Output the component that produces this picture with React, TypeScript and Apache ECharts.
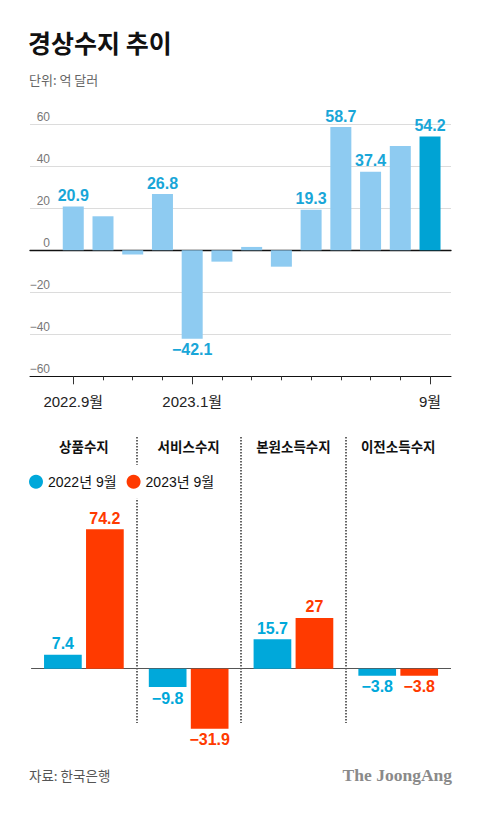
import React, { useEffect, useRef } from 'react';
import * as echarts from 'echarts';

const months = ['2022.9월', '10월', '11월', '12월', '2023.1월', '2월', '3월', '4월', '5월', '6월', '7월', '8월', '9월'];
const balance = [20.9, 16.2, -2.0, 26.8, -42.1, -5.4, 1.6, -7.8, 19.3, 58.7, 37.4, 49.7, 54.2];
const labeledMonths = [true, false, false, true, true, false, false, false, true, true, true, false, true];
const shownMonthLabels = [0, 4, 12];
const yMin = -60;
const yMax = 60;
const yStep = 20;

const sectors = ['상품수지', '서비스수지', '본원소득수지', '이전소득수지'];
const seriesNames = ['2022년 9월', '2023년 9월'];
const sep2022 = [7.4, -9.8, 15.7, -3.8];
const sep2023 = [74.2, -31.9, 27, -3.8];

const FONT = "'Liberation Sans', 'Noto Sans CJK KR', sans-serif";
const KFONT = "'Noto Sans CJK KR', sans-serif";
const LIGHT = '#8ECBF1';
const DARK = '#00A3D4';
const LABEL_BLUE = '#19A6D8';
const BLUE = '#00A8DA';
const RED = '#FF3A00';

const fmt = (v: number) => (v < 0 ? '−' : '') + String(Math.abs(v));

export default function App() {
  const ref = useRef<HTMLDivElement>(null);
  useEffect(() => {
    if (!ref.current) return;
    const chart = echarts.init(ref.current, undefined, { renderer: 'svg' });
    const topGrid = { top: 124.3, bottom: 813 - 376.3 };
    const option: any = {
      animation: false,
      backgroundColor: '#fff',
      textStyle: { fontFamily: FONT },
      title: [
        { text: '경상수지 추이', left: 28, top: 29, padding: 0, textStyle: { fontFamily: KFONT, fontSize: 25, fontWeight: 'bold', color: '#111' } },
        { text: '단위: 억 달러', left: 29, top: 73, padding: 0, textStyle: { fontFamily: KFONT, fontSize: 13, fontWeight: 'normal', color: '#666' } },
        { text: '자료: 한국은행', left: 29, top: 768, padding: 0, textStyle: { fontFamily: KFONT, fontSize: 13.5, fontWeight: 'normal', color: '#555' } },
        { text: 'The JoongAng', right: 28, top: 766, padding: 0, textStyle: { fontFamily: "'Liberation Serif', 'DejaVu Serif', serif", fontSize: 17.5, fontWeight: 'bold', color: '#8a8a8a' } },
      ],
      legend: {
        data: seriesNames,
        left: 24,
        top: 464.7,
        padding: [10, 5],
        backgroundColor: '#fff',
        icon: 'circle',
        itemWidth: 14,
        itemHeight: 14,
        itemGap: 10,
        z: 10,
        textStyle: { fontFamily: FONT, fontSize: 14, color: '#111' },
      },
      grid: [
        { left: 30, right: 29, ...topGrid },
        { left: 58.4, right: 35.1, ...topGrid },
        { left: 58.4, right: 35.1, ...topGrid },
        { left: 31.5, right: 29.4, top: 437, bottom: 90 },
        { left: 31.5, right: 29.4, top: 480.7, bottom: 69.1 },
      ],
      xAxis: [
        { gridIndex: 0, type: 'value', min: 0, max: 1, position: 'bottom', axisLine: { show: true, onZero: false, lineStyle: { color: '#111', width: 1 } }, axisTick: { show: false }, axisLabel: { show: false }, splitLine: { show: false } },
        { gridIndex: 0, type: 'value', min: 0, max: 1, position: 'top', axisLine: { show: true, onZero: true, lineStyle: { color: '#111', width: 1.3 } }, axisTick: { show: false }, axisLabel: { show: false }, splitLine: { show: false } },
        {
          gridIndex: 1, type: 'category', data: months, position: 'bottom',
          axisLine: { show: false, onZero: false },
          axisTick: { show: true, length: 4, alignWithLabel: true, interval: 0, lineStyle: { color: '#333' } },
          axisLabel: { interval: (i: number) => shownMonthLabels.includes(i), margin: 18, fontSize: 15, color: '#222', fontFamily: FONT },
          splitLine: { show: false },
        },
        {
          gridIndex: 2, type: 'category', data: months, position: 'bottom',
          axisLine: { show: false, onZero: false },
          axisTick: { show: true, length: 8, alignWithLabel: true, interval: (i: number) => shownMonthLabels.includes(i), lineStyle: { color: '#333' } },
          axisLabel: { show: false },
          splitLine: { show: false },
        },
        {
          gridIndex: 3, type: 'category', data: sectors, position: 'top',
          axisLine: { show: false }, axisTick: { show: false },
          axisLabel: { inside: true, margin: 2, fontSize: 13.5, fontWeight: 'bold', color: '#111', fontFamily: KFONT, interval: 0 },
          splitLine: { show: true, interval: 0, showMinLine: false, showMaxLine: false, lineStyle: { color: '#333', width: 1.5, type: [1.5, 1.5] } },
        },
        {
          gridIndex: 4, type: 'category', data: sectors,
          axisLine: { show: true, onZero: true, lineStyle: { color: '#555', width: 1 } },
          axisTick: { show: false }, axisLabel: { show: false }, splitLine: { show: false },
        },
      ],
      yAxis: [
        {
          gridIndex: 0, type: 'value', min: yMin, max: yMax, interval: yStep,
          axisLine: { show: false }, axisTick: { show: false },
          axisLabel: { inside: true, margin: 20, align: 'right', verticalAlign: 'bottom', padding: [0, 0, 1, 0], fontSize: 12, color: '#777', formatter: (v: number) => fmt(v) },
          splitLine: { show: true, lineStyle: { color: '#dcdcdc', width: 1 } },
        },
        { gridIndex: 1, type: 'value', min: yMin, max: yMax, show: false },
        { gridIndex: 2, type: 'value', min: yMin, max: yMax, show: false },
        { gridIndex: 3, type: 'value', min: 0, max: 1, show: false },
        { gridIndex: 4, type: 'value', min: -40, max: 100, show: false },
      ],
      series: [
        {
          type: 'bar', xAxisIndex: 2, yAxisIndex: 1, barWidth: 21,
          label: { fontFamily: FONT, fontWeight: 'bold', fontSize: 16, color: LABEL_BLUE, distance: 3, formatter: (p: any) => fmt(p.value) },
          data: balance.map((v, i) => ({
            value: v,
            itemStyle: { color: i === balance.length - 1 ? DARK : LIGHT },
            label: { show: labeledMonths[i], position: v < 0 ? 'bottom' : 'top' },
          })),
        },
        {
          name: seriesNames[0], type: 'bar', xAxisIndex: 5, yAxisIndex: 4, barWidth: 37.7, barGap: '11.4%',
          itemStyle: { color: BLUE },
          label: { show: true, fontFamily: FONT, fontWeight: 'bold', fontSize: 16, color: BLUE, distance: 3, formatter: (p: any) => fmt(p.value) },
          data: sep2022.map((v) => ({ value: v, label: { position: v < 0 ? 'bottom' : 'top' } })),
        },
        {
          name: seriesNames[1], type: 'bar', xAxisIndex: 5, yAxisIndex: 4, barWidth: 37.7, barGap: '11.4%',
          itemStyle: { color: RED },
          label: { show: true, fontFamily: FONT, fontWeight: 'bold', fontSize: 16, color: RED, distance: 3, formatter: (p: any) => fmt(p.value) },
          data: sep2023.map((v) => ({ value: v, label: { position: v < 0 ? 'bottom' : 'top' } })),
        },
      ],
    };
    chart.setOption(option);
    return () => chart.dispose();
  }, []);
  return (
    <div
      ref={ref}
      style={{ position: 'fixed', left: 0, top: 0, width: 480, height: 813, background: '#fff' }}
    />
  );
}
